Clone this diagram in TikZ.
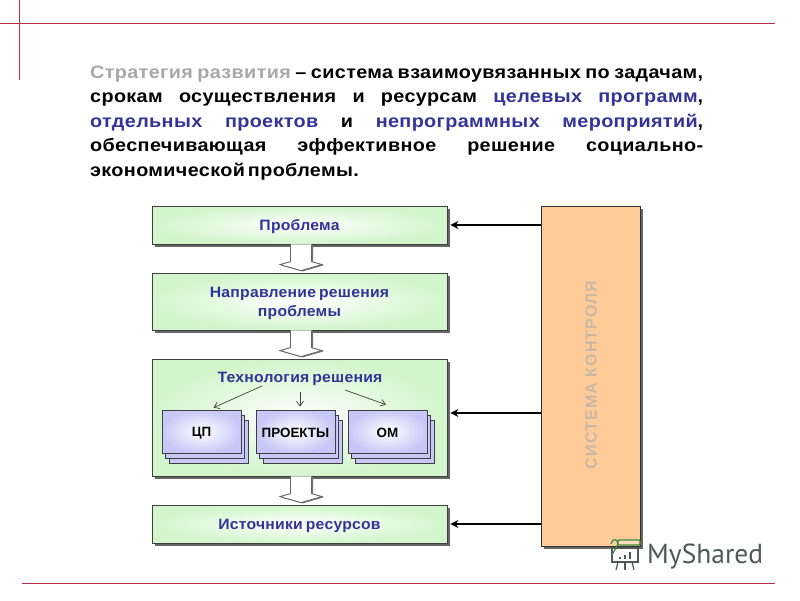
\documentclass[tikz,border=0pt]{standalone}
\usepackage{fontspec}
\setmainfont{Liberation Sans}
\newfontfamily\wmfont{PT Sans}
\newfontfamily\headfont[FakeStretch=1.1,LetterSpace=2]{Liberation Sans}
\newfontfamily\boxfont[FakeStretch=1.05,LetterSpace=1.5]{Liberation Sans}
\newfontfamily\ctrlfont[LetterSpace=7]{Liberation Sans}
\newcommand\lowr[1]{\raisebox{-1.5pt}[\height][\depth]{#1}}
\newcommand\boxfontset{\boxfont\fontsize{15}{19}\selectfont\bfseries\spaceskip=0.2em\relax}
\usetikzlibrary{calc,shadows,arrows.meta}
\definecolor{deck}{HTML}{333399}
\definecolor{slideline}{HTML}{B83048}
\definecolor{greyhead}{HTML}{A8A8A8}
\definecolor{greenedge}{HTML}{D2F5CC}
\definecolor{lav}{HTML}{C8C8F8}
\definecolor{orangebox}{HTML}{FFCC99}
\definecolor{ctrltext}{HTML}{C9B8A4}
\definecolor{wmc}{HTML}{4E5A55}
\tikzset{
  rulel/.style={color=slideline,line width=0.9pt},
  boxtext/.style={font=\boxfontset},
  mainbox/.style={draw=black!75,line width=0.8pt,inner color=white,outer color=greenedge,
    minimum width=295pt,inner sep=0pt,align=center,text=deck,boxtext,
    general shadow={shadow xshift=2.5pt,shadow yshift=-2.5pt,fill=black!60}},
  backcard/.style={draw=black!75,line width=0.7pt,fill=lav,minimum width=79pt,minimum height=43pt,inner sep=0pt},
  frontcard/.style={backcard,inner color=white,outer color=lav,text=black,
    font=\fontsize{13.4}{14}\selectfont\bfseries},
  feedback/.style={line width=1.8pt,black,-{Stealth[length=8pt,width=8pt]}},
  thinarrow/.style={line width=0.7pt,black!75,-{Straight Barb[length=5pt,width=7pt]}},
  hollow/.style={draw=black!60,line width=0.9pt,fill=white,
    general shadow={shadow xshift=1.5pt,shadow yshift=-0.8pt,fill=black!55},
    to path={($(\tikztostart)+(-10.5pt,0)$) -- ($(\tikztotarget)+(-10.5pt,11pt)$)
      -- ($(\tikztotarget)+(-21pt,8pt)$) -- ($(\tikztotarget)+(0,2pt)$)
      -- ($(\tikztotarget)+(21pt,8pt)$) -- ($(\tikztotarget)+(10.5pt,11pt)$)
      -- ($(\tikztostart)+(10.5pt,0)$)}}
}
\begin{document}
\begin{tikzpicture}[x=1pt,y=-1pt]
\useasboundingbox (0,0) rectangle (800,600);
\fill[white] (0,0) rectangle (800,600);
% slide rules
\coordinate (ra) at (0,23); \coordinate (rb) at (775,23);
\coordinate (rc) at (19,0); \coordinate (rd) at (19,80);
\coordinate (re) at (22,583); \coordinate (rf) at (775,583);
\draw[rulel] (ra) -- (rb);
\draw[rulel] (rc) -- (rd);
\draw[rulel] (re) -- (rf);
% heading paragraph
\node[anchor=north west,inner sep=0pt,text width=613pt,align=justify,
  font=\headfont\fontsize{18}{24.5}\selectfont\bfseries] (head) at (90,65.5)
 {\spaceskip=0.1em plus 2em\relax\parfillskip=0pt plus 1fill\relax
  \textcolor{greyhead}{Стратегия развития} – система взаимоувязанных по задачам,\linebreak
  срокам осуществления и ресурсам \textcolor{deck}{целевых программ},\linebreak
  \textcolor{deck}{отдельных проектов} и \textcolor{deck}{непрограммных мероприятий},\linebreak
  обеспечивающая эффективное решение социально-\linebreak
  экономической\hspace{3pt}проблемы.\par};
% control block
\node[draw=black!80,line width=0.9pt,fill=orangebox,minimum width=99pt,minimum height=340pt,inner sep=0pt,
  general shadow={shadow xshift=2.5pt,shadow yshift=-2.5pt,fill=black!60}] (ctrl) at (590.5,376) {};
\node[rotate=90,text=ctrltext,font=\ctrlfont\fontsize{16}{20}\selectfont\bfseries] (ctrllabel) at (591,375) {СИСТЕМА КОНТРОЛЯ};
% main boxes
\node[mainbox,minimum height=38pt] (prob) at (299.5,225) {\lowr{Проблема}};
\node[mainbox,minimum height=57pt] (dir) at (299.5,301.5) {\lowr{Направление решения}\\\lowr{проблемы}};
\node[mainbox,minimum height=117pt] (tech) at (299.5,417.5) {};
\node[mainbox,minimum height=38pt] (res) at (299.5,524) {\lowr{Источники ресурсов}};
\node[text=deck,inner sep=0pt,boxtext] (techlabel) at (300,379) {Технология решения};
% hollow arrows
\path[hollow] ([xshift=1.5pt]prob.south) to ([xshift=1.5pt]dir.north);
\path[hollow] ([xshift=1.5pt]dir.south) to ([xshift=1.5pt]tech.north);
\path[hollow] ([xshift=1.5pt]tech.south) to ([xshift=1.5pt]res.north);
% cards
\node[backcard] (c3) at (208.5,441.5) {};
\node[backcard] (c2) at (205,436.5) {};
\node[frontcard] (cp) at (201.5,431.5) {\lowr{ЦП}};
\node[backcard] (p3) at (302.5,441.5) {};
\node[backcard] (p2) at (299,436.5) {};
\node[frontcard] (pr) at (295.5,431.5) {\lowr{ПРОЕКТЫ}};
\node[backcard] (o3) at (394.5,441.5) {};
\node[backcard] (o2) at (391,436.5) {};
\node[frontcard] (om) at (387.5,431.5) {\lowr{ОМ}};
% thin arrows
\draw[thinarrow] ([xshift=-38pt,yshift=-7pt]techlabel.center) -- ([xshift=12pt,yshift=2pt]cp.north);
\draw[thinarrow] ([yshift=-13pt]techlabel.center) -- ([xshift=4.5pt,yshift=3pt]pr.north);
\draw[thinarrow] ([xshift=45pt,yshift=-11pt]techlabel.center) -- ([xshift=-1.5pt,yshift=5pt]om.north);
% feedback arrows
\draw[feedback] (ctrl.west |- prob.east) -- ([xshift=3pt]prob.east);
\draw[feedback] ([yshift=4.5pt]ctrl.west |- tech.east) -- ([xshift=3pt,yshift=4.5pt]tech.east);
\draw[feedback] (ctrl.west |- res.east) -- ([xshift=3pt]res.east);
% watermark
\node[anchor=base west,inner sep=0pt,text=wmc,font=\fontsize{27.5}{30}\wmfont] (wm) at (647,563) {MyShared};
\begin{scope}[draw=wmc,line width=1.2pt]
\draw (612,548) rectangle (638,562);
\draw[draw=wmc!70!green,line width=1.2pt] (611,544) .. controls (612,538) and (618,538) .. (618,544) -- (612,555);
\draw[draw=wmc!70!green,line width=1.4pt,fill=orangebox!60!white,rounded corners=1pt] (618,540) rectangle (640,545);
\draw (618,562) -- (616,570); \draw (625,562) -- (625,570); \draw (632,562) -- (634,570);
\fill[wmc] (619,557) rectangle (621,559);
\fill[wmc] (624,555) rectangle (626,559);
\fill[wmc] (629,552) rectangle (631,559);
\end{scope}
\end{tikzpicture}
\end{document}
